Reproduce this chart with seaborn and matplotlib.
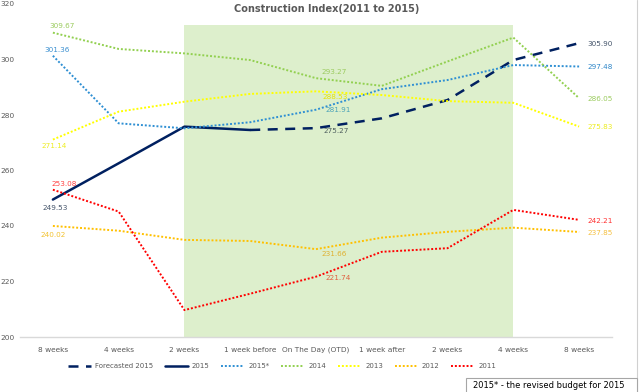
import pandas as pd
import matplotlib.pyplot as plt
import seaborn as sns
from matplotlib.lines import Line2D
from matplotlib.patches import Rectangle

sns.set_style("white")
plt.rcParams["font.family"] = ["DejaVu Sans"]

# ==========================================================
# DATA
# ==========================================================

weeks = ["8 weeks", "4 weeks", "2 weeks", "1 week before", "On The Day (OTD)",
         "1 week after", "2 weeks", "4 weeks", "8 weeks"]

y2011 = [253.08, 245.2, 209.7, 215.6, 221.74, 230.7, 232.0, 245.8, 242.21]
y2012 = [240.02, 238.3, 235.0, 234.6, 231.66, 235.8, 237.9, 239.4, 237.85]
y2013 = [271.14, 281.2, 284.8, 287.6, 288.53, 287.2, 285.0, 284.4, 275.83]
y2014 = [309.67, 303.8, 302.2, 299.8, 293.27, 290.5, 299.3, 307.9, 286.05]
y2015_rev = [301.36, 277.0, 275.2, 277.4, 281.91, 289.3, 292.6, 298.0, 297.48]
y2015 = [249.53, 262.6, 275.8, 274.6, None, None, None, None, None]
forecast_2015 = [None, None, None, 274.6, 275.27, 278.8, 285.4, 299.8, 305.90]

shade_from, shade_to, shade_top = 2, 7, 312.5

# ==========================================================
# STYLE
# ==========================================================

NAVY = "#002060"
BLUE = "#2E8FD3"
GREEN = "#92D050"
YELLOW = "#FFFF00"
GOLD = "#FFC000"
RED = "#FF0000"

dot = (0, (1, 1))
series = [
    ("Forecasted 2015", forecast_2015, NAVY, (0, (4, 3)), 1.8),
    ("2015", y2015, NAVY, "-", 1.8),
    ("2015*", y2015_rev, BLUE, dot, 1.4),
    ("2014", y2014, GREEN, dot, 1.4),
    ("2013", y2013, YELLOW, dot, 1.4),
    ("2012", y2012, GOLD, dot, 1.4),
    ("2011", y2011, RED, dot, 1.4),
]

fig = plt.figure(figsize=(6.39, 3.92), dpi=100)
ax = fig.add_axes([20 / 639, 1 - 337 / 392, 592 / 639, 333 / 392])

ax.fill_between([shade_from, shade_to], 200, shade_top, color="#DDEFCC",
                lw=0, zorder=0)

for name, vals, color, ls, lw in series:
    df = pd.DataFrame({"x": range(len(weeks)), "y": vals}).dropna()
    sns.lineplot(data=df, x="x", y="y", ax=ax, color=color, linestyle=ls,
                 linewidth=lw, zorder=3)

# data labels: first point
lab = dict(fontsize=5.2, zorder=4, va="center")
ax.text(0.14, y2014[0] + 2.4, f"{y2014[0]:.2f}", color="#9BCB5E", ha="center", **lab)
ax.text(0.06, y2015_rev[0] + 2.0, f"{y2015_rev[0]:.2f}", color="#3A8FD0", ha="center", **lab)
ax.text(0.02, y2013[0] - 2.3, f"{y2013[0]:.2f}", color="#EDED20", ha="center", **lab)
ax.text(0.17, y2011[0] + 2.0, f"{y2011[0]:.2f}", color="#FF4040", ha="center", **lab)
ax.text(0.03, y2015[0] - 3.0, f"{y2015[0]:.2f}", color="#44546A", ha="center", **lab)
ax.text(0.0, y2012[0] - 3.2, f"{y2012[0]:.2f}", color="#F2C12E", ha="center", **lab)

# data labels: on the day
ax.text(4.09, y2014[4] + 2.2, f"{y2014[4]:.2f}", color="#9BCB5E", ha="left", **lab)
ax.text(4.1, y2013[4] - 2.0, f"{y2013[4]:.2f}", color="#E6E600", ha="left", **lab)
ax.text(4.14, y2015_rev[4] - 0.1, f"{y2015_rev[4]:.2f}", color="#4BA3B8", ha="left", **lab)
ax.text(4.12, forecast_2015[4] - 1.1, f"{forecast_2015[4]:.2f}", color="#4E5E5E", ha="left", **lab)
ax.text(4.09, y2012[4] - 1.8, f"{y2012[4]:.2f}", color="#E0B030", ha="left", **lab)
ax.text(4.14, y2011[4] - 0.4, f"{y2011[4]:.2f}", color="#E06040", ha="left", **lab)

# data labels: last point
last = len(weeks) - 1
for vals, color in [(forecast_2015, "#44546A"), (y2015_rev, "#2E86C8"),
                    (y2014, "#9BCB5E"), (y2013, "#EDED20"),
                    (y2011, "#FF3030"), (y2012, "#F5C040")]:
    ax.text(last + 0.13, vals[last] - 0.3, f"{vals[last]:.2f}", color=color,
            ha="left", **lab)

# ==========================================================
# AXES
# ==========================================================

ax.set_xlim(-0.5, last + 0.5)
ax.set_ylim(200, 320)
ax.set_yticks(range(200, 321, 20))
ax.set_xticks(range(len(weeks)))
ax.set_xticklabels(weeks)
ax.tick_params(axis="both", length=0, labelsize=5.3, labelcolor="#595959")
ax.tick_params(axis="x", pad=7)
ax.tick_params(axis="y", pad=4)
ax.set_xlabel("")
ax.set_ylabel("")
for side in ["top", "right", "left"]:
    ax.spines[side].set_visible(False)
ax.spines["bottom"].set_color("#D9D9D9")
ax.spines["bottom"].set_linewidth(1)

fig.text(327 / 639, 1 - 9 / 392, "Construction Index(2011 to 2015)",
         ha="center", va="center", fontsize=7.0, fontweight="bold", color="#595959")

handles = [Line2D([], [], color=c, linestyle=ls, linewidth=lw)
           for _, _, c, ls, lw in series]
fig.legend(handles, [s[0] for s in series], loc="center",
           bbox_to_anchor=(282 / 639, 1 - 366 / 392), ncol=7, frameon=False,
           fontsize=5, handlelength=3.3, columnspacing=1.7, handletextpad=0.6,
           labelcolor="#595959")

# right edge of a neighbouring panel
fig.add_artist(Line2D([637 / 639, 637 / 639], [0, 1], color="#D0D0D0", lw=0.8))

# note box
fig.add_artist(Rectangle((466 / 639, -0.01), 171 / 639, 1 - 378 / 392 + 0.01,
                         transform=fig.transFigure, fc="white", ec="#A6A6A6",
                         lw=0.8, zorder=5))
fig.text(473 / 639, 1 - 385 / 392, "2015* - the revised budget for 2015",
         ha="left", va="center", fontsize=6, color="black", zorder=6)

fig.savefig("out.png", dpi=100)
